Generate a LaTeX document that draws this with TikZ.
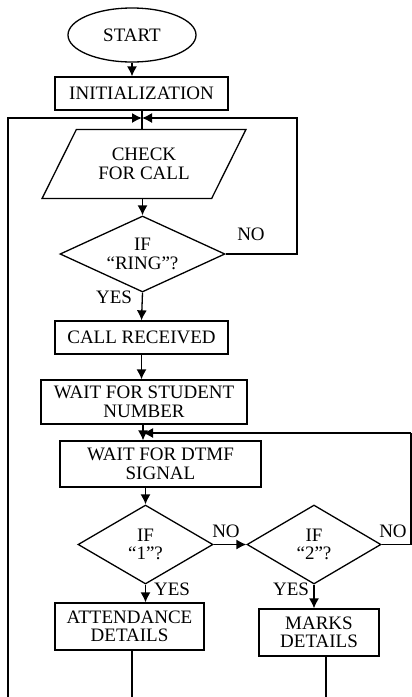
\documentclass[tikz,border=0pt]{standalone}
\usepackage{fontspec}
\setmainfont{Liberation Serif}
\usetikzlibrary{shapes.geometric,arrows.meta}
\begin{document}
\begin{tikzpicture}[x=1pt,y=-1pt,line width=1.3pt,
  every node/.style={font=\fontsize{19}{18.5}\selectfont, align=center, inner sep=0pt},
  box/.style={draw, rectangle},
  term/.style={draw, ellipse, minimum width=128pt, minimum height=54pt},
  dec/.style={draw, diamond},
  para/.style={draw, trapezium, trapezium left angle=53.5, trapezium right angle=126.5,
     trapezium stretches=true, minimum width=204pt, minimum height=69pt},
  arr/.style={-{Latex[length=10pt,width=10pt]}},
  lbl/.style={}]
\useasboundingbox (0,0) rectangle (412,697);
\node[term] (start) at (132,35) {START};
\node[box, minimum width=173pt, minimum height=33pt] (init) at (141.5,93.5) {INITIALIZATION};
\node[para] (check) at (144,164) {CHECK\\FOR CALL};
\node[dec, aspect=2.17, minimum width=165pt, minimum height=76pt] (ring) at (142.5,254) {IF\\“RING”?};
\node[box, minimum width=173pt, minimum height=33pt] (callrec) at (141.5,337.5) {CALL RECEIVED};
\node[box, minimum width=206pt, minimum height=44pt] (student) at (144,402) {WAIT FOR STUDENT\\NUMBER};
\node[box, minimum width=201pt, minimum height=46pt] (dtmf) at (160.5,464) {WAIT FOR DTMF\\SIGNAL};
\node[dec, aspect=1.7, minimum width=135pt, minimum height=79pt] (d1) at (145.5,544.5) {IF\\“1”?};
\node[dec, aspect=1.7, minimum width=134pt, minimum height=79pt] (d2) at (314,544.5) {IF\\“2”?};
\node[box, minimum width=149pt, minimum height=47pt] (att) at (129.5,626.5) {ATTENDANCE\\DETAILS};
\node[box, minimum width=120pt, minimum height=47pt] (marks) at (319,632.5) {MARKS\\DETAILS};

\coordinate (j1) at (142,118);
\coordinate (j2) at (143,433);
\coordinate (lb) at (8,697);
\coordinate (rt1) at (297,118);
\coordinate (rt2) at (411,433);
\coordinate (ab) at (132,697);
\coordinate (mb) at (326,697);

\draw[arr] (start.south) -- (start.south |- init.north);
\draw (init.south -| j1) -- (check.north -| j1);
\draw[arr] (lb) |- (j1);
\draw[arr] (ring.east) -| (rt1) -- (j1);
\node[lbl] (no1) at (251,234) {NO};
\draw[arr] (check.south -| ring.north) -- (ring.north);
\draw[arr] (ring.south) -- (callrec.north);
\node[lbl] (yes1) at (114,297) {YES};
\draw[arr] (callrec.south) -- (callrec.south |- student.north);
\draw[arr] (student.south -| j2) -- (dtmf.north -| j2);
\draw[arr] (rt2) -- (j2);
\draw[arr] (dtmf.south -| d1.north) -- (d1.north);
\draw[arr] (d1.east) -- (d2.west);
\node[lbl] (no2) at (226,531) {NO};
\draw (d2.east) -| (rt2);
\node[lbl] (no3) at (393,531) {NO};
\draw[arr] (d1.south) -- (d1.south |- att.north);
\node[lbl] (yes2) at (172,589) {YES};
\draw[arr] (d2.south) -- (d2.south |- marks.north);
\node[lbl] (yes3) at (291,589) {YES};
\draw (att.south -| ab) -- (ab);
\draw (marks.south -| mb) -- (mb);
\end{tikzpicture}
\end{document}
